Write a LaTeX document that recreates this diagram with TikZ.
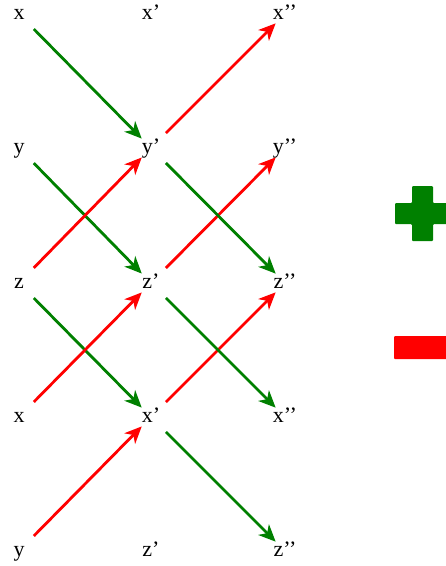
\documentclass[tikz,border=0pt]{standalone}
\usepackage{fontspec}
\setmainfont{Liberation Serif}
\usetikzlibrary{arrows.meta}
\definecolor{plusgreen}{RGB}{0,128,0}
\definecolor{minusred}{RGB}{255,0,0}
\tikzset{
    letterbox/.style={circle, inner sep=0pt, minimum size=26pt,
        text height=10pt, text depth=0pt, font=\fontsize{22}{26}\selectfont},
    swaparrow/.style={-{Stealth[length=17pt, width=15pt, inset=5pt]},
        line width=2.8pt, shorten <=8pt},
    gainarrow/.style={swaparrow, draw=plusgreen, fill=plusgreen},
    lossarrow/.style={swaparrow, draw=minusred, fill=minusred}
}

\begin{document}
\begin{tikzpicture}[x=1pt, y=-1pt]
\useasboundingbox (0,0) rectangle (446,566);
% first column
\node[letterbox] (x1) at (19,14) {x};
\node[letterbox] (y2) at (19,148) {y};
\node[letterbox] (z3) at (19,283) {z};
\node[letterbox] (x4) at (19,417) {x};
\node[letterbox] (y5) at (19,551) {y};
% second column
\node[letterbox] (xp1) at (151,14) {x’};
\node[letterbox] (yp2) at (151,148) {y’};
\node[letterbox] (zp3) at (151,283) {z’};
\node[letterbox] (xp4) at (151,417) {x’};
\node[letterbox] (zp5) at (151,551) {z’};
% third column
\node[letterbox] (xpp1) at (285,14) {x’’};
\node[letterbox] (ypp2) at (285,148) {y’’};
\node[letterbox] (zpp3) at (285,283) {z’’};
\node[letterbox] (xpp4) at (285,417) {x’’};
\node[letterbox] (zpp5) at (285,551) {z’’};
% first column to second
\draw[gainarrow] (x1) -- (yp2);
\draw[gainarrow] (y2) -- (zp3);
\draw[gainarrow] (z3) -- (xp4);
\draw[lossarrow] (z3) -- (yp2);
\draw[lossarrow] (x4) -- (zp3);
\draw[lossarrow] (y5) -- (xp4);
% second column to third
\draw[lossarrow] (yp2) -- (xpp1);
\draw[lossarrow] (zp3) -- (ypp2);
\draw[lossarrow] (xp4) -- (zpp3);
\draw[gainarrow] (yp2) -- (zpp3);
\draw[gainarrow] (zp3) -- (xpp4);
\draw[gainarrow] (xp4) -- (zpp5);
% legend signs
\fill[plusgreen, rounded corners=1pt] (412,186) -- (433,186) -- (433,203) -- (449,203)
    -- (449,224) -- (433,224) -- (433,241) -- (412,241) -- (412,224) -- (395,224)
    -- (395,203) -- (412,203) -- cycle;
\fill[minusred, rounded corners=1pt] (394,336) rectangle (450,359);
\end{tikzpicture}
\end{document}
